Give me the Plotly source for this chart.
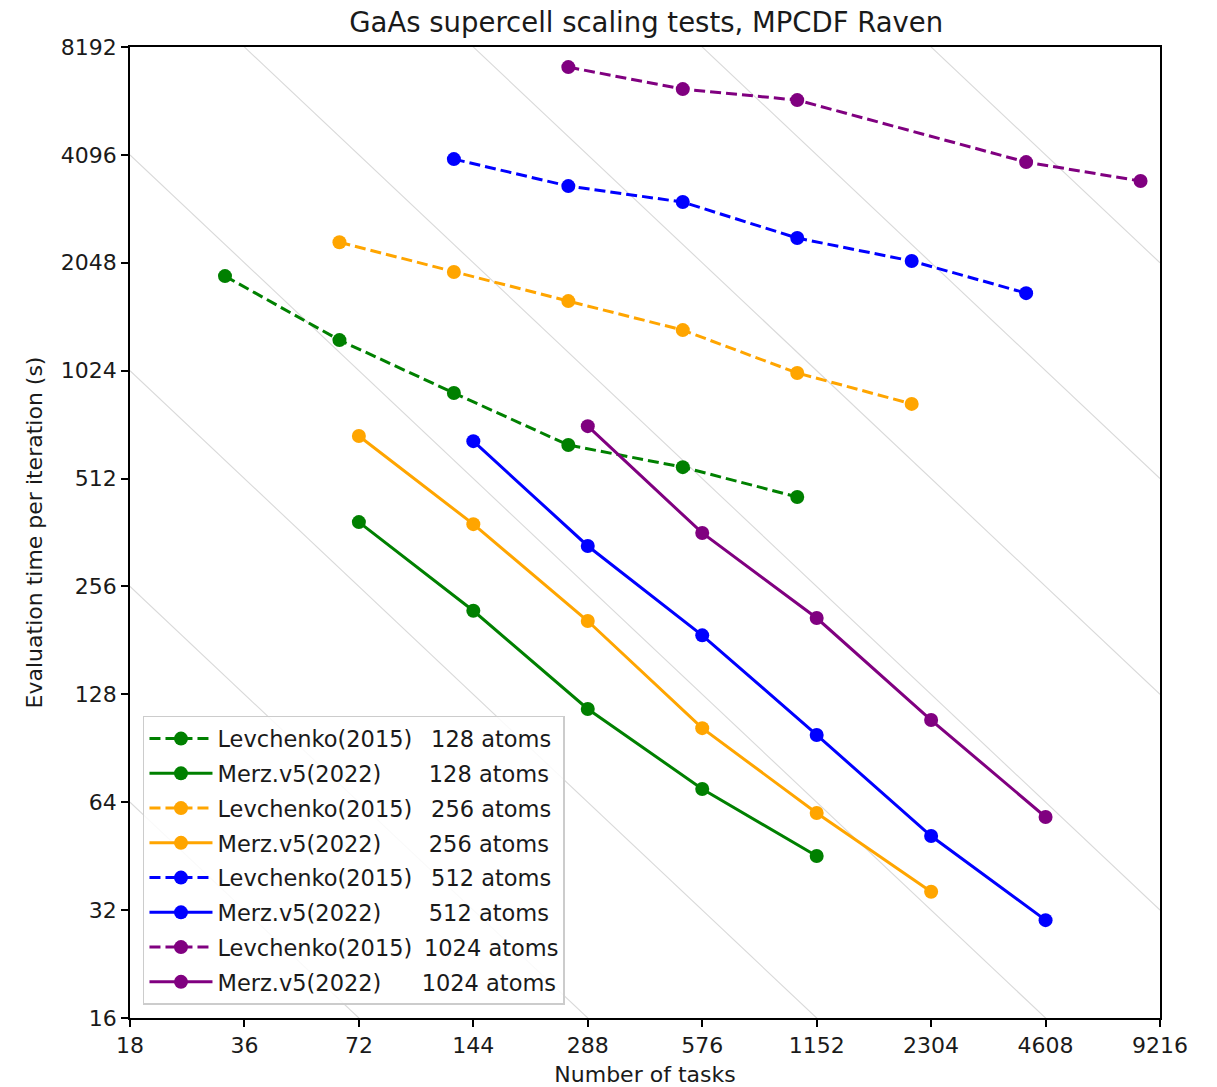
import plotly.graph_objects as go

# Number of MPI tasks and evaluation time per SCF iteration (s)
lev128_tasks = [32, 64, 128, 256, 512, 1024]
lev128_time = [1880, 1246, 887, 635, 551, 455]
merz128_tasks = [72, 144, 288, 576, 1152]
merz128_time = [387, 219, 116.5, 69.7, 45.3]

lev256_tasks = [64, 128, 256, 512, 1024, 2048]
lev256_time = [2337, 1930, 1601, 1329, 1009, 827]
merz256_tasks = [72, 144, 288, 576, 1152, 2304]
merz256_time = [673, 382, 205, 103, 59.7, 36]

lev512_tasks = [128, 256, 512, 1024, 2048, 4096]
lev512_time = [3987, 3352, 3025, 2401, 2071, 1685]
merz512_tasks = [144, 288, 576, 1152, 2304, 4608]
merz512_time = [651, 332, 187, 98.6, 51.5, 30]

lev1024_tasks = [256, 512, 1024, 4096, 8192]
lev1024_time = [7200, 6250, 5825, 3911, 3462]
merz1024_tasks = [288, 576, 1152, 2304, 4608]
merz1024_time = [717, 361, 209, 108.5, 58.2]

x_ticks = [18, 36, 72, 144, 288, 576, 1152, 2304, 4608, 9216]
y_ticks = [16, 32, 64, 128, 256, 512, 1024, 2048, 4096, 8192]

# task*time products of the ideal-scaling guide lines
ideal_products = [288, 1152, 4608, 18432, 73728, 294912, 1179648, 4718592, 18874368]

NB = "\u00a0"
TH = "\u2009"

series = [
    ("Levchenko(2015)" + NB * 2 + TH + "128 atoms", lev128_tasks, lev128_time, "green", True),
    ("Merz.v5(2022)" + NB * 6 + TH + "128 atoms", merz128_tasks, merz128_time, "green", False),
    ("Levchenko(2015)" + NB * 2 + TH + "256 atoms", lev256_tasks, lev256_time, "orange", True),
    ("Merz.v5(2022)" + NB * 6 + TH + "256 atoms", merz256_tasks, merz256_time, "orange", False),
    ("Levchenko(2015)" + NB * 2 + TH + "512 atoms", lev512_tasks, lev512_time, "blue", True),
    ("Merz.v5(2022)" + NB * 6 + TH + "512 atoms", merz512_tasks, merz512_time, "blue", False),
    ("Levchenko(2015)" + NB + TH + "1024 atoms", lev1024_tasks, lev1024_time, "purple", True),
    ("Merz.v5(2022)" + NB * 5 + TH + "1024 atoms", merz1024_tasks, merz1024_time, "purple", False),
]

fig = go.Figure()

# light ideal-scaling lines (time ~ 1/tasks)
x_lo, x_hi = x_ticks[0], x_ticks[-1]
for c in ideal_products:
    fig.add_trace(go.Scatter(
        x=[x_lo, x_hi], y=[c / x_lo, c / x_hi], mode="lines",
        line=dict(color="#d9d9d9", width=1.1), showlegend=False, hoverinfo="skip",
    ))

for i, (name, xs, ys, color, dashed) in enumerate(series):
    fig.add_trace(go.Scatter(
        x=xs, y=ys, mode="lines+markers", name=name, legendgroup=f"g{i}",
        line=dict(color=color, width=3, dash="11px,5px" if dashed else "solid"),
        marker=dict(color=color, size=14, symbol="circle"),
    ))

axis_common = dict(
    type="log", showgrid=False, zeroline=False, automargin=False,
    showline=True, linecolor="black", linewidth=1.6, mirror=True,
    ticks="outside", ticklen=7, tickwidth=1.6, tickcolor="black",
)

fig.update_layout(
    width=1217, height=1087,
    margin=dict(l=130, r=57, t=47, b=69),
    paper_bgcolor="white", plot_bgcolor="white",
    font=dict(family="DejaVu Sans", size=22, color="#1a1a1a"),
    title=dict(text="GaAs supercell scaling tests, MPCDF Raven", x=0.531, xanchor="center",
               y=1 - 22 / 1087, yanchor="middle", yref="container",
               font=dict(size=27.5, color="#1a1a1a")),
    xaxis=dict(
        **axis_common,
        range=[1.2553, 3.9645],
        tickvals=x_ticks, ticktext=[str(v) for v in x_ticks],
        title=dict(text="Number of tasks", standoff=11, font=dict(size=22)),
    ),
    yaxis=dict(
        **axis_common,
        range=[1.20412, 3.91339],
        tickvals=y_ticks, ticktext=[str(v) for v in y_ticks],
        title=dict(text="Evaluation time per iteration (s)", standoff=12, font=dict(size=22)),
    ),
    legend=dict(
        x=0.0126, y=0.0134, xanchor="left", yanchor="bottom",
        bgcolor="rgba(255,255,255,0.85)", bordercolor="#cccccc", borderwidth=1.5,
        font=dict(size=22.5), tracegroupgap=2.5, traceorder="grouped", itemwidth=63,
    ),
    showlegend=True,
)

fig.write_html("out.html")
